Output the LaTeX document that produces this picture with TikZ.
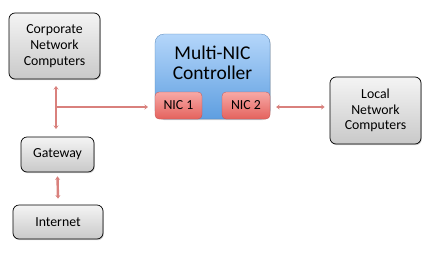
\documentclass[tikz,border=0pt]{standalone}
\usepackage{fontspec}
\setmainfont{Carlito}
\usetikzlibrary{arrows.meta,shadows}
\definecolor{linkred}{HTML}{D9817D}
\definecolor{grayhi}{HTML}{F4F4F4}
\definecolor{graylo}{HTML}{C9C9C9}
\definecolor{bluehi}{HTML}{B4D6FA}
\definecolor{bluelo}{HTML}{5E9EE0}
\definecolor{redhi}{HTML}{F7A9A6}
\definecolor{redlo}{HTML}{E4625D}
\begin{document}
\begin{tikzpicture}[x=1pt,y=-1pt,
  graybox/.style={draw=black, line width=0.7pt, rounded corners=6pt, top color=grayhi, bottom color=graylo,
    drop shadow={shadow xshift=0.8pt, shadow yshift=-1.2pt, opacity=0.35},
    font=\fontsize{13.8}{15.8}\selectfont, align=center, inner sep=0pt},
  ctrlbox/.style={draw=bluelo!80!black, line width=0.3pt, rounded corners=9pt, top color=bluehi, bottom color=bluelo,
    drop shadow={shadow xshift=0.8pt, shadow yshift=-1.2pt, opacity=0.35}, inner sep=0pt},
  nicbox/.style={draw=redlo!85!black, line width=0.3pt, rounded corners=4pt, top color=redhi, bottom color=redlo,
    font=\fontsize{13.8}{16}\selectfont, inner sep=0pt},
  link/.style={draw=linkred, line width=2.4pt, {Stealth[length=3.5pt,width=5pt]}-{Stealth[length=3.5pt,width=5pt]}},
  linkone/.style={draw=linkred, line width=2.4pt, -{Stealth[length=3.5pt,width=5pt]}}]
\useasboundingbox (0,0) rectangle (436,255);
% gray boxes
\node[graybox, minimum width=91pt, minimum height=66pt] (corp) at (54.5,46) {Corporate\\Network\\Computers};
\node[graybox, minimum width=73pt, minimum height=35pt] (gw) at (57.5,154.5) {Gateway};
\node[graybox, minimum width=90pt, minimum height=34pt] (inet) at (58,222) {Internet};
\node[graybox, minimum width=91pt, minimum height=67pt] (local) at (375.5,110.5) {Local\\Network\\Computers};
% controller
\node[ctrlbox, minimum width=115pt, minimum height=85pt] (ctrl) at (212.5,76.5) {};
\node[font=\fontsize{19.5}{20.5}\selectfont, align=center] (ctrltext) at (212.5,63) {Multi-NIC\\Controller};
\node[nicbox, minimum width=47pt, minimum height=27pt] (nic1) at (178.5,105.5) {NIC 1};
\node[nicbox, minimum width=48pt, minimum height=27pt] (nic2) at (246,105.5) {NIC 2};
% connectors
\coordinate (top) at (56,86);
\coordinate (bot) at (56,129);
\coordinate (junc) at (56,107);
\coordinate (nic1in) at (148,107);
\draw[link] (top) -- (bot);
\draw[linkone] (junc) -- (nic1in);
\draw[link] ([yshift=-4pt]gw.south) -- ([yshift=6pt]inet.north);
\draw[link] ([xshift=6pt]nic2.east |- 0,107) -- ([xshift=-5pt]local.west |- 0,107);
\end{tikzpicture}
\end{document}
